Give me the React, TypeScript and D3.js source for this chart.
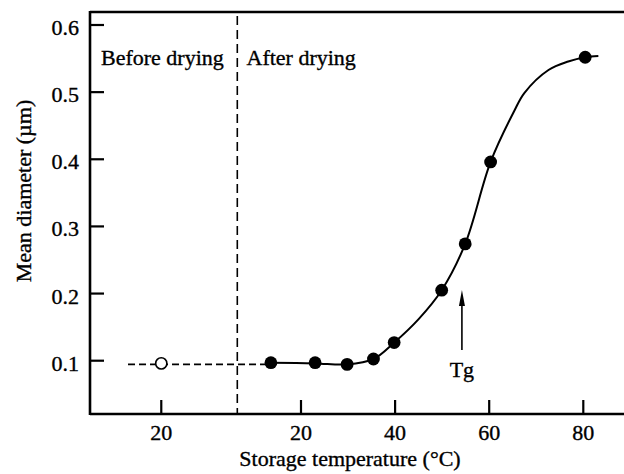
import React from "react";
import * as d3 from "d3";

const WIDTH = 624;
const HEIGHT = 474;

// Mean particle diameter (µm) after drying, by storage temperature (°C)
const afterTemps = [13.6, 23, 29.8, 35.4, 39.8, 49.9, 54.9, 60.3, 80.4];
const afterDiams = [0.097, 0.097, 0.0945, 0.1025, 0.127, 0.205, 0.274, 0.396, 0.552];

// Dispersion measured before drying
const beforeTemps = [20];
const beforeDiams = [0.096];

// Sigmoidal trend drawn through the post-drying measurements
const fitTemps = [13.6, 23, 29.8, 35.4, 39.8, 45, 49.9, 54.9, 60.3, 65.4, 67.5, 72.6, 76.8, 80.4, 83.2];
const fitDiams = [0.097, 0.096, 0.0945, 0.1025, 0.127, 0.162, 0.205, 0.274, 0.396, 0.473, 0.499, 0.533, 0.5456, 0.552, 0.554];

const yTicks = [0.1, 0.2, 0.3, 0.4, 0.5, 0.6];
const afterTicks = [20, 40, 60, 80];
const beforeTicks = [20];
const tgTemp = 54.2;

const FONT = "'Liberation Serif', 'Times New Roman', Times, serif";

// slightly heavier glyphs for the printed look
const textStyle = { stroke: "#000", strokeWidth: 0.35 } as const;

export default function App() {
  const left = 90;
  const top = 12;
  const bottom = 414;
  const right = 624;

  const y = d3.scaleLinear().domain([0.1, 0.6]).range([360.7, 25]);
  const xAfter = d3.scaleLinear().domain([20, 80]).range([301, 583.3]);
  const xBefore = d3.scaleLinear().domain([5, 36]).range([left, 237.3]);
  const divider = xBefore(36);

  const fitLine = d3
    .line<number>()
    .x((_, i) => xAfter(fitTemps[i]))
    .y((d) => y(d))
    .curve(d3.curveCatmullRom.alpha(0.5));

  const tickLen = 14;

  return (
    <svg
      width={WIDTH}
      height={HEIGHT}
      style={{ position: "absolute", left: 0, top: 0, background: "#fff" }}
      fontFamily={FONT}
    >
      {/* frame */}
      <line x1={left} x2={left} y1={top - 1} y2={bottom + 1} stroke="#000" strokeWidth={2.6} />
      <line x1={left} x2={right} y1={top} y2={top} stroke="#000" strokeWidth={2.4} />
      <line x1={left} x2={right} y1={bottom} y2={bottom} stroke="#000" strokeWidth={2.4} />

      <g {...textStyle} fontSize={22}>
        {/* y axis labels */}
        {yTicks.map((t) => (
          <text key={"yl" + t} x={79} y={y(t) + 10} textAnchor="end">
            {t.toFixed(1)}
          </text>
        ))}
        {/* x axis labels */}
        {beforeTicks.map((t) => (
          <text key={"bl" + t} x={xBefore(t)} y={440} textAnchor="middle">
            {t}
          </text>
        ))}
        {afterTicks.map((t) => (
          <text key={"al" + t} x={xAfter(t)} y={440} textAnchor="middle">
            {t}
          </text>
        ))}

        {/* axis titles */}
        <text x={350} y={466} textAnchor="middle">
          Storage temperature (°C)
        </text>
        <text transform={`translate(31, 191) rotate(-90)`} textAnchor="middle">
          Mean diameter (µm)
        </text>

        <text x={101} y={65}>
          Before drying
        </text>
        <text x={246.5} y={65}>
          After drying
        </text>
        <text x={xAfter(tgTemp)} y={377} textAnchor="middle">
          Tg
        </text>
      </g>

      {/* ticks */}
      {yTicks.map((t) => (
        <line key={"yt" + t} x1={left} x2={left + tickLen} y1={y(t)} y2={y(t)} stroke="#000" strokeWidth={2.2} />
      ))}
      {beforeTicks.map((t) => (
        <line key={"bt" + t} x1={xBefore(t)} x2={xBefore(t)} y1={bottom} y2={bottom - tickLen} stroke="#000" strokeWidth={2.2} />
      ))}
      {afterTicks.map((t) => (
        <line key={"at" + t} x1={xAfter(t)} x2={xAfter(t)} y1={bottom} y2={bottom - tickLen} stroke="#000" strokeWidth={2.2} />
      ))}

      {/* divider between before and after drying */}
      <line
        x1={divider}
        x2={divider}
        y1={16}
        y2={bottom}
        stroke="#000"
        strokeWidth={1.6}
        strokeDasharray="9,5"
      />

      {/* dashed link from the undried dispersion to the first stored sample */}
      <line
        x1={xBefore(13)}
        x2={xAfter(afterTemps[0])}
        y1={y(beforeDiams[0]) + 1}
        y2={y(beforeDiams[0]) + 1}
        stroke="#000"
        strokeWidth={1.6}
        strokeDasharray="7,4"
      />

      {/* fitted trend */}
      <path d={fitLine(fitDiams) || ""} fill="none" stroke="#000" strokeWidth={2} />

      {/* measurements */}
      {beforeDiams.map((d, i) => (
        <circle
          key={"bo" + i}
          cx={xBefore(beforeTemps[i])}
          cy={y(d)}
          r={5.6}
          fill="#fff"
          stroke="#000"
          strokeWidth={1.6}
        />
      ))}
      {afterDiams.map((d, i) => (
        <circle key={"af" + i} cx={xAfter(afterTemps[i])} cy={y(d)} r={6.4} fill="#000" />
      ))}

      {/* glass transition marker */}
      <line x1={xAfter(tgTemp)} x2={xAfter(tgTemp)} y1={350} y2={300} stroke="#000" strokeWidth={1.6} />
      <path
        d={`M${xAfter(tgTemp)},290 L${xAfter(tgTemp) - 3},306 L${xAfter(tgTemp) + 3},306 Z`}
        fill="#000"
      />
    </svg>
  );
}
